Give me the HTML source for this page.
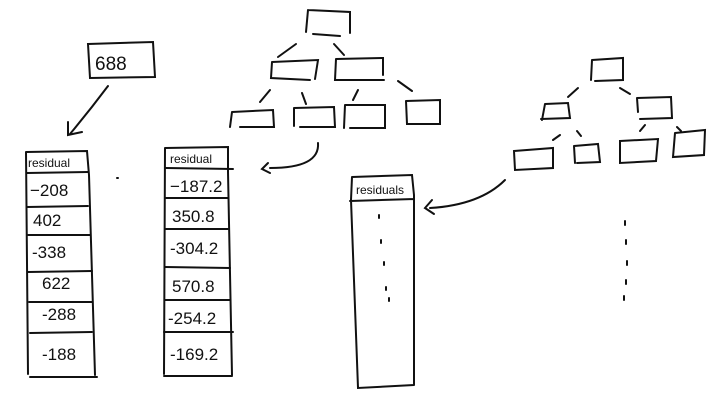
<!DOCTYPE html>
<html><head><style>body{margin:0;background:#fff}svg{display:block}text{font-family:"Liberation Sans",sans-serif;fill:#111}</style></head><body>
<svg width="720" height="412" viewBox="0 0 720 412" fill="none" stroke="#111" stroke-width="2" stroke-linecap="round">
<!-- 688 box -->
<path d="M88 44 L153 42 L155 77 L90 78 Z"/>
<text x="95" y="70" font-size="19" stroke="none">688</text>
<path d="M108 86 Q90 110 70 134"/><path d="M68 122 L68 135 L82 132"/>
<!-- table 1 -->
<path d="M26 152 L87 151 L89 175 L95 375 M26 152 L28 374"/>
<path d="M27 173 L88 172 M27 207 L88 206 M28 235 L90 235 M28 272 L92 271 M29 302 L92 302 M30 333 L92 332 M30 377 L97 377"/>
<g stroke="none" font-size="17"><text x="28" y="167" font-size="12">residual</text>
<text x="30" y="196">−208</text><text x="33" y="226">402</text><text x="32" y="258">-338</text><text x="42" y="289">622</text><text x="42" y="320">-288</text><text x="42" y="360">-188</text></g>
<path d="M117 178 l1 0"/>
<!-- table 2 -->
<path d="M165 148 L228 147 L228 172 L232 375 M165 148 L164 374"/>
<path d="M166 168 L233 169 M166 198 L228 198 M165 229 L228 229 M165 267 L230 268 M165 300 L230 300 M164 332 L233 332 M164 376 L232 376"/>
<g stroke="none" font-size="17"><text x="170" y="163" font-size="12">residual</text>
<text x="170" y="192">−187.2</text><text x="172" y="222">350.8</text><text x="170" y="254">-304.2</text><text x="172" y="292">570.8</text><text x="168" y="324">-254.2</text><text x="170" y="360">-169.2</text></g>
<!-- tree 1 -->
<g>
<path d="M308 10 L350 12 L350 33 M308 10 L306 32 M313 34 L340 36"/>
<path d="M296 44 L278 57 M334 44 L344 55"/>
<path d="M272 62 L318 60 L315 79 M272 62 L271 78 L310 80 M336 59 L383 58 L383 75 M336 59 L335 80 L384 80"/>
<path d="M270 90 L260 102 M302 93 L306 104 M358 90 L353 100 M398 81 L412 91"/>
<path d="M232 112 L273 110 L274 127 L240 127 M232 112 L230 127"/>
<path d="M294 108 L334 107 L335 127 L300 127 M294 108 L294 126"/>
<path d="M345 105 L385 105 L385 128 L350 128 M345 105 L344 128"/>
<path d="M406 101 L440 100 L440 124 L407 124 L406 101"/>
</g>
<path d="M318 143 Q320 168 270 168"/><path d="M268 163 L262 169 L270 173"/>
<!-- residuals box -->
<path d="M352 177 L412 175 L414 195 L414 385 M352 177 L351 200 L358 388 L414 385 M350 201 L414 199"/>
<text x="356" y="194" font-size="12" stroke="none">residuals</text>
<path d="M379 215 l0 3 M381 240 l0 3 M384 262 l0 3 M386 287 l0 3 M389 298 l0 3"/>
<!-- tree 2 -->
<path d="M592 60 L623 58 L623 80 L595 81 M592 60 L591 80"/>
<path d="M578 88 L568 97 M620 88 L630 94"/>
<path d="M545 104 L568 103 L570 118 L541 119 M545 104 L542 120 M637 98 L671 97 L672 118 L640 119 M637 98 L638 112"/>
<path d="M560 135 L553 140 M577 131 L581 136 M645 125 L640 131 M677 127 L681 131"/>
<path d="M514 151 L553 148 L553 168 L515 170 Z"/>
<path d="M574 146 L598 144 L600 162 L577 163 M574 146 L575 163"/>
<path d="M620 141 L658 139 L656 161 L620 163 Z"/>
<path d="M675 133 L705 130 L704 155 L673 157 L675 133"/>
<path d="M505 180 Q480 205 430 208"/><path d="M432 200 L425 208 L434 214"/>
<path d="M625 221 l0 4 M626 240 l0 4 M627 261 l0 4 M626 280 l0 4 M624 296 l0 4"/>
</svg>
</body></html>
